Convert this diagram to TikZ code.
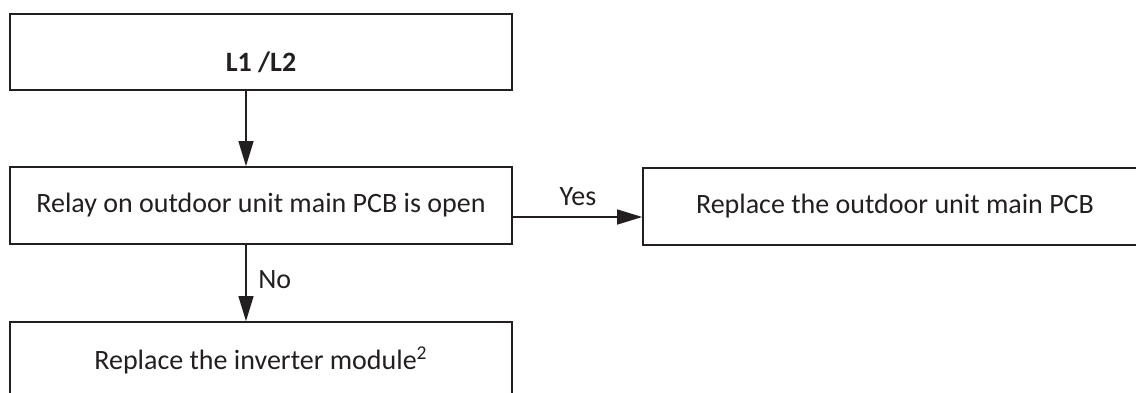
\documentclass[tikz,border=0pt]{standalone}
\usepackage{fontspec}
\setmainfont{Carlito}
\usetikzlibrary{arrows.meta}
\definecolor{ink}{HTML}{231F20}
\begin{document}
\begin{tikzpicture}[x=0.5pt,y=-0.5pt,
  every node/.style={text=ink,font=\fontsize{14pt}{17pt}\selectfont},
  boxstyle/.style={draw=ink,line width=0.85pt,minimum width=251pt,minimum height=38pt,inner sep=0pt},
  arr/.style={draw=ink,line width=0.65pt,-{Triangle[length=12.5pt,width=7.5pt]}},
  lbl/.style={anchor=base,inner sep=0pt}]
\useasboundingbox (0,0) rectangle (1136,392);
\clip (0,0) rectangle (1136,392);
\node[boxstyle,text height=19pt,text depth=0pt,font=\fontsize{14pt}{17pt}\selectfont\bfseries] (top) at (261,52) {L1 /L2};
\node[boxstyle,minimum height=38.5pt] (mid) at (261,205.5) {Relay on outdoor unit main PCB is open};
\node[boxstyle,minimum width=252pt,minimum height=38.5pt] (rbox) at (895,206.5) {Replace the outdoor unit main PCB};
\node[boxstyle,minimum height=38.5pt] (bot) at (261,360.5) {Replace the inverter module\textsuperscript{2}};
\coordinate (ax) at (246,0);
\coordinate (ay) at (0,217);
\draw[arr] (ax |- top.south) -- (ax |- mid.north);
\draw[arr] (ax |- mid.south) -- (ax |- bot.north);
\draw[arr] (mid.east |- ay) -- (rbox.west |- ay);
\node[lbl] (yes) at (578,205) {Yes};
\node[lbl,anchor=base west] (no) at (258,288) {No};
\end{tikzpicture}
\end{document}
